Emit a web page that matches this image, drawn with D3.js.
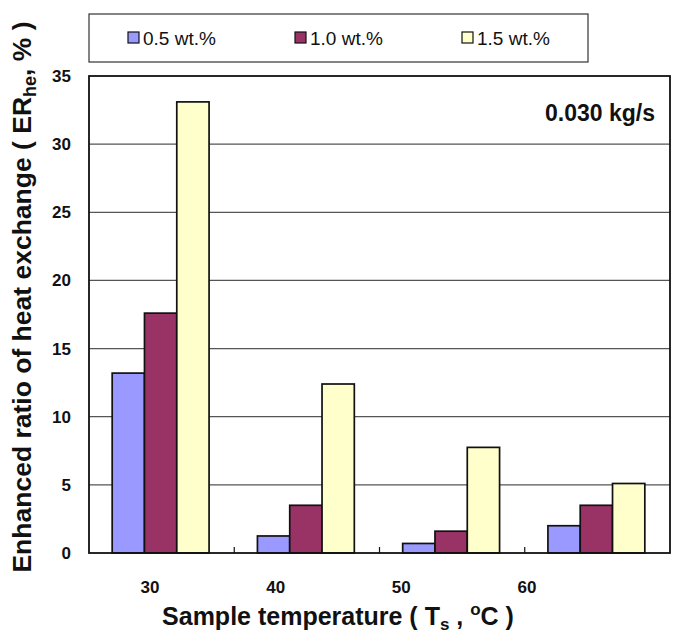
<!DOCTYPE html>
<html><head><meta charset="utf-8">
<script src="https://cdn.jsdelivr.net/npm/d3@7"></script>
<style>body{margin:0;background:#fff}svg{display:block}text{font-family:"Liberation Sans",Arial,sans-serif}</style>
</head><body>
<script>
const categories = ["30","40","50","60"];
const seriesNames = ["0.5 wt.%","1.0 wt.%","1.5 wt.%"];
const s05 = [13.2, 1.25, 0.7, 2.0];
const s10 = [17.6, 3.5, 1.6, 3.5];
const s15 = [33.1, 12.4, 7.75, 5.1];
const yTicks = [0,5,10,15,20,25,30,35];
const colors = ["#9999FF","#993366","#FFFFCC"];
const seriesValues = [s05, s10, s15];

const W=685,H=642;
const svg=d3.select("body").append("svg").attr("width",W).attr("height",H);
const L=89,R=670,T=76,B=553;
const x=d3.scaleBand().domain(categories).range([L,R]).paddingInner(0).paddingOuter(0);
const y=d3.scaleLinear().domain([0,35]).range([B,T]);

// plot background & grid
svg.append("rect").attr("x",L).attr("y",T).attr("width",R-L).attr("height",B-T).attr("fill","#fff");
svg.append("g").selectAll("line").data(yTicks.filter(d=>d>0&&d<35)).join("line")
  .attr("x1",L).attr("x2",R).attr("y1",d=>y(d)).attr("y2",d=>y(d))
  .attr("stroke","#555").attr("stroke-width",1.2);

// bars
const bw=32.3;
const groupW=bw*3;
seriesValues.forEach((vals,si)=>{
  svg.append("g").selectAll("rect").data(vals).join("rect")
    .attr("x",(d,i)=>x(categories[i])+x.bandwidth()/2-groupW/2+si*bw-1)
    .attr("y",d=>y(d))
    .attr("width",bw)
    .attr("height",d=>B-y(d))
    .attr("fill",colors[si]).attr("stroke","#111").attr("stroke-width",1.7);
});

// axes frame
svg.append("rect").attr("x",L).attr("y",T).attr("width",R-L).attr("height",B-T)
  .attr("fill","none").attr("stroke","#111").attr("stroke-width",1.8);
// x inside tick marks at category boundaries
svg.append("g").selectAll("line").data(categories.slice(1)).join("line")
  .attr("x1",d=>x(d)).attr("x2",d=>x(d)).attr("y1",B).attr("y2",B-6)
  .attr("stroke","#111").attr("stroke-width",1.2);

// y tick labels
svg.append("g").selectAll("text").data(yTicks).join("text")
  .attr("x",71).attr("y",d=>y(d)+6).attr("text-anchor","end")
  .attr("font-size",17).attr("font-weight","bold").attr("fill","#111").text(d=>d);

// x labels (offset in reference)
const xl=d3.scalePoint().domain(categories).range([150,527]);
svg.append("g").selectAll("text").data(categories).join("text")
  .attr("x",d=>xl(d)).attr("y",593).attr("text-anchor","middle")
  .attr("font-size",17).attr("font-weight","bold").attr("fill","#111").text(d=>d);

// x title
const xt=svg.append("text").attr("x",338).attr("y",625).attr("text-anchor","middle")
  .attr("font-size",25).attr("font-weight","bold").attr("fill","#111");
xt.append("tspan").text("Sample temperature ( T");
xt.append("tspan").attr("font-size",17).attr("dy",5).text("s");
xt.append("tspan").attr("dy",-5).text(" , ");
xt.append("tspan").attr("font-size",17).attr("dy",-10).text("o");
xt.append("tspan").attr("dy",10).text("C )");

// y title
const yt=svg.append("text").attr("transform","translate(31,297) rotate(-90)").attr("text-anchor","middle")
  .attr("font-size",26.5).attr("font-weight","bold").attr("fill","#111");
yt.append("tspan").text("Enhanced ratio of heat exchange ( ER");
yt.append("tspan").attr("font-size",18).attr("dy",5).text("he");
yt.append("tspan").attr("dy",-5).text(", % )");

// annotation
svg.append("text").attr("x",655).attr("y",121).attr("text-anchor","end")
  .attr("font-size",23).attr("font-weight","bold").attr("fill","#111").text("0.030 kg/s");

// legend
svg.append("rect").attr("x",89).attr("y",14).attr("width",499).attr("height",48)
  .attr("fill","#fff").attr("stroke","#333").attr("stroke-width",1.2);
const lx=d3.scalePoint().domain(seriesNames).range([128,462]);
const lg=svg.append("g").selectAll("g").data(seriesNames).join("g")
  .attr("transform",d=>`translate(${lx(d)},38)`);
lg.append("rect").attr("x",0).attr("y",-6).attr("width",11).attr("height",11)
  .attr("fill",(d,i)=>colors[i]).attr("stroke","#111").attr("stroke-width",1.2);
lg.append("text").attr("x",15).attr("y",7).attr("font-size",19).attr("fill","#111").text(d=>d);
</script>
</body></html>
